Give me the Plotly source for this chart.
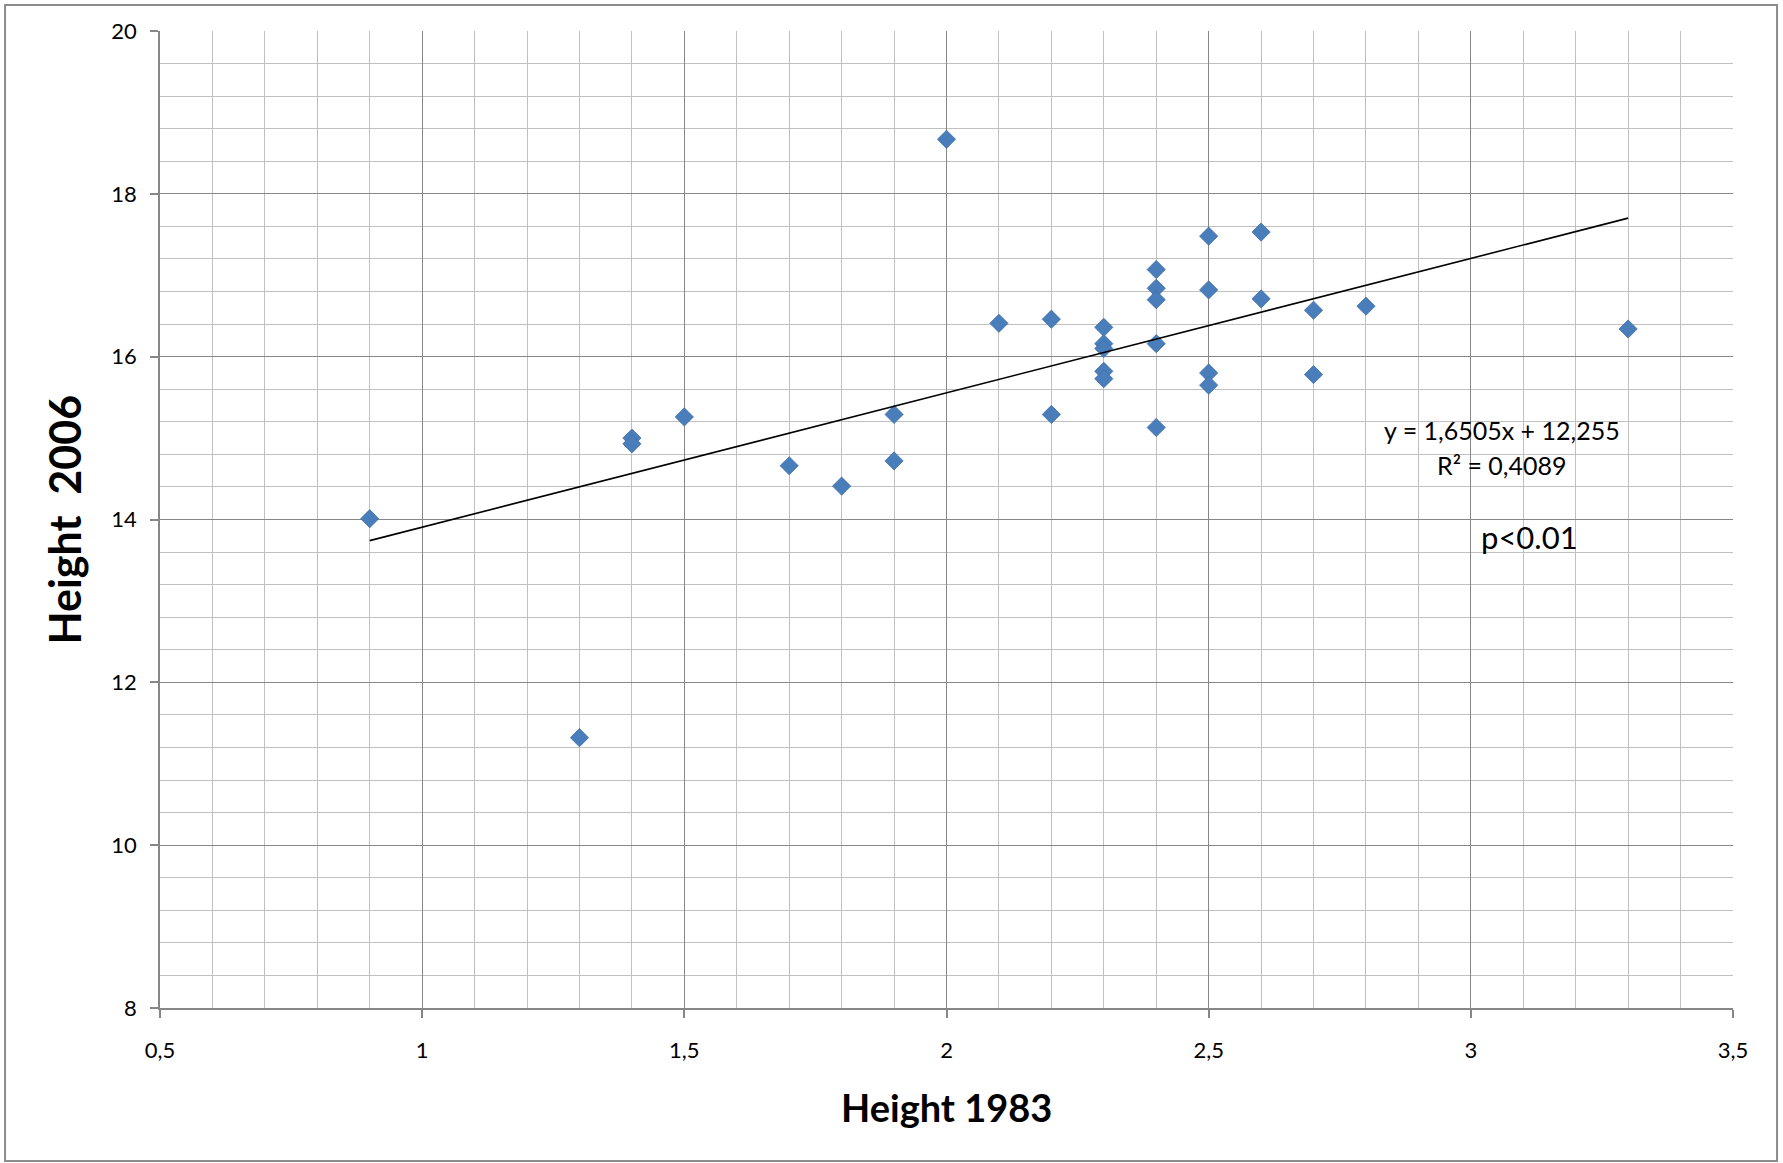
import plotly.graph_objects as go

# ---- data ----
height_1983 = [0.9, 1.3, 1.4, 1.4, 1.5, 1.7, 1.8, 1.9, 1.9, 2.0, 2.1, 2.2, 2.2,
               2.3, 2.3, 2.3, 2.3, 2.3,
               2.4, 2.4, 2.4, 2.4, 2.4,
               2.5, 2.5, 2.5, 2.5,
               2.6, 2.6, 2.7, 2.7, 2.8, 3.3]
height_2006 = [14.01, 11.32, 15.00, 14.93, 15.26, 14.66, 14.41, 15.29, 14.72, 18.67, 16.41, 16.46, 15.29,
               16.36, 16.16, 16.10, 15.82, 15.73,
               17.07, 16.84, 16.70, 16.16, 15.13,
               17.48, 16.82, 15.80, 15.65,
               17.53, 16.71, 16.57, 15.78, 16.62, 16.34]

trend_slope = 1.6505
trend_intercept = 12.255
trend_x = [0.9, 3.3]

x_tickvals = [0.5, 1, 1.5, 2, 2.5, 3, 3.5]
x_ticktext = ["0,5", "1", "1,5", "2", "2,5", "3", "3,5"]
y_tickvals = [8, 10, 12, 14, 16, 18, 20]
y_ticktext = ["8", "10", "12", "14", "16", "18", "20"]

eq_text = "y = 1,6505x + 12,255"
r2_text = "R² = 0,4089"
p_text = "p<0.01"
x_title = "Height 1983"
y_title = "Height\u00a0\u00a02006"

FONT = "Lato, 'Open Sans', sans-serif"
MAJOR = "#878787"
MINOR = "#c0c0c0"

fig = go.Figure()
fig.add_trace(go.Scatter(
    x=height_1983, y=height_2006, mode="markers",
    marker=dict(symbol="diamond", size=14, color="#4A7EBB",
                line=dict(width=0.8, color="#3D6EA8")),
    showlegend=False, hoverinfo="x+y"))

trend_y = [trend_slope * v + trend_intercept for v in trend_x]
fig.add_trace(go.Scatter(
    x=trend_x, y=trend_y, mode="lines",
    line=dict(color="black", width=1.6), showlegend=False, hoverinfo="skip"))

axis_common = dict(
    showline=True, linecolor=MAJOR, linewidth=1.5, mirror=False,
    showgrid=True, gridcolor=MAJOR, gridwidth=1,
    ticks="outside", ticklen=8, tickcolor=MAJOR, tickwidth=1.5,
    tickfont=dict(family=FONT, size=22, color="black"),
    zeroline=False,
)

fig.update_xaxes(range=[0.5, 3.5], tickvals=x_tickvals, ticktext=x_ticktext,
                 minor=dict(dtick=0.1, tick0=0.5, showgrid=True, gridcolor=MINOR, gridwidth=1.2, ticks=""),
                 ticklabelstandoff=14, **axis_common)
fig.update_yaxes(range=[8, 20], tickvals=y_tickvals, ticktext=y_ticktext,
                 minor=dict(dtick=0.4, tick0=8, showgrid=True, gridcolor=MINOR, gridwidth=1.2, ticks=""),
                 ticklabelstandoff=9, **axis_common)

annotations = [
    dict(x=3.0595, y=15.094, xref="x", yref="y", text=eq_text, showarrow=False,
         font=dict(family=FONT, size=25, color="black"), xanchor="center", yanchor="middle"),
    dict(x=3.0595, y=14.664, xref="x", yref="y", text=r2_text, showarrow=False,
         font=dict(family=FONT, size=25, color="black"), xanchor="center", yanchor="middle"),
    dict(x=3.111, y=13.78, xref="x", yref="y", text=p_text, showarrow=False,
         font=dict(family=FONT, size=31, color="black"), xanchor="center", yanchor="middle"),
    dict(x=0.5, y=-0.1013, xref="paper", yref="paper", text="<b>" + x_title + "</b>", showarrow=False,
         font=dict(family=FONT, size=38, color="black"), xanchor="center", yanchor="middle"),
    dict(x=-0.0610, y=0.5, xref="paper", yref="paper", text="<b>" + y_title + "</b>", showarrow=False,
         textangle=-90, font=dict(family=FONT, size=43, color="black"), xanchor="center", yanchor="middle"),
]

fig.update_layout(
    width=1783, height=1163,
    margin=dict(l=160, r=50, t=31, b=155),
    paper_bgcolor="white", plot_bgcolor="white",
    annotations=annotations,
    shapes=[dict(type="rect", xref="paper", yref="paper",
                 x0=-0.0985, x1=1.028, y0=-0.1566, y1=1.0266,
                 line=dict(color="#8c8c8c", width=2), fillcolor="rgba(0,0,0,0)", layer="below")],
    showlegend=False,
)

fig.write_html("out.html")
